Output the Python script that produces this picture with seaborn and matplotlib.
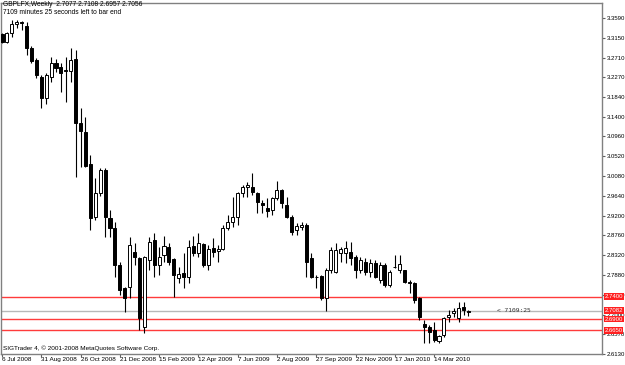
import matplotlib
matplotlib.use("Agg")
import numpy as np
import pandas as pd
import matplotlib.pyplot as plt
import seaborn as sns

# weekly GBPLFX candles, 6 Jul 2008 .. late Apr 2010
opens = [3.3234, 3.3057, 3.3257, 3.3457, 3.3501, 3.3412, 3.2923, 3.2657, 3.2279, 3.1812,
         3.2279, 3.2590, 3.2501, 3.2434, 3.2412, 3.2679, 3.1257, 3.1057, 3.0346, 2.9168,
         2.9701, 3.0212, 2.9146, 2.8923, 2.8101, 2.7590, 2.7612, 2.8390, 2.8257, 2.6723,
         2.8212, 2.8657, 2.8101, 2.8323, 2.8501, 2.8234, 2.7812, 2.7923, 2.7834, 2.8523,
         2.8368, 2.8568, 2.8101, 2.8479, 2.8412, 2.8457, 2.8923, 2.9057, 2.9168, 2.9701,
         2.9834, 2.9834, 2.9701, 2.9479, 2.9368, 2.9323, 2.9590, 2.9768, 2.9434, 2.9168,
         2.8879, 2.8946, 2.8990, 2.8257, 2.7834, 2.7857, 2.7368, 2.7990, 2.7946, 2.8368,
         2.8368, 2.8390, 2.8279, 2.7990, 2.8168, 2.7946, 2.8146, 2.7768, 2.8101, 2.7657,
         2.8057, 2.7990, 2.7990, 2.7723, 2.7701, 2.7368, 2.6790, 2.6723, 2.6657, 2.6412,
         2.6546, 2.6946, 2.7034, 2.6923, 2.7168, 2.7077]
highs = [3.3257, 3.3279, 3.3546, 3.3546, 3.3523, 3.3501, 3.2968, 3.2701, 3.2323, 3.2368,
         3.2723, 3.2679, 3.2590, 3.2723, 3.2923, 3.2879, 3.1590, 3.1390, 3.0546, 3.0034,
         3.0257, 3.0257, 2.9323, 2.9057, 2.8168, 2.7612, 2.8723, 2.8590, 2.8279, 2.8301,
         2.8723, 2.8812, 2.8501, 2.8746, 2.8590, 2.8257, 2.8057, 2.8368, 2.8657, 2.8746,
         2.8812, 2.8590, 2.8546, 2.8701, 2.8546, 2.8990, 2.9212, 2.9612, 2.9723, 2.9879,
         2.9946, 3.0146, 2.9712, 2.9546, 2.9590, 2.9612, 2.9968, 2.9779, 2.9612, 2.9212,
         2.9034, 2.9057, 2.9034, 2.8368, 2.7879, 2.7879, 2.8034, 2.8501, 2.8590, 2.8501,
         2.8634, 2.8612, 2.8323, 2.8279, 2.8257, 2.8234, 2.8212, 2.8168, 2.8146, 2.7990,
         2.8323, 2.8323, 2.8000, 2.7768, 2.7712, 2.7390, 2.6879, 2.6768, 2.6834, 2.6546,
         2.6946, 2.7101, 2.7146, 2.7279, 2.7279, 2.7108]
lows = [3.3034, 3.3034, 3.3168, 3.3368, 3.3323, 3.2768, 3.2590, 3.2257, 3.1590, 3.1679,
        3.2168, 3.2390, 3.1946, 3.1723, 3.2168, 3.0057, 3.0279, 3.0279, 2.8879, 2.9101,
        2.9634, 2.8723, 2.8723, 2.7834, 2.7434, 2.7057, 2.7368, 2.8101, 2.6657, 2.6590,
        2.7990, 2.7834, 2.7879, 2.8168, 2.8101, 2.7390, 2.7701, 2.7590, 2.7701, 2.8301,
        2.8279, 2.8057, 2.7990, 2.8279, 2.8168, 2.8434, 2.8879, 2.8946, 2.8990, 2.9612,
        2.9612, 2.9657, 2.9257, 2.9257, 2.9168, 2.9212, 2.9546, 2.9368, 2.9146, 2.8768,
        2.8768, 2.8879, 2.7834, 2.7812, 2.7590, 2.7323, 2.7079, 2.7923, 2.7923, 2.8168,
        2.8146, 2.8101, 2.7812, 2.7923, 2.7879, 2.7834, 2.7812, 2.7701, 2.7612, 2.7612,
        2.8034, 2.7923, 2.7701, 2.7479, 2.7257, 2.6879, 2.6368, 2.6368, 2.6390, 2.6368,
        2.6501, 2.6834, 2.6946, 2.6834, 2.6990, 2.6957]
closes = [3.3057, 3.3257, 3.3457, 3.3501, 3.3479, 3.2923, 3.2634, 3.2323, 3.1812, 3.2323,
          3.2590, 3.2479, 3.2368, 3.2412, 3.2657, 3.1257, 3.1079, 3.0301, 2.9146, 2.9701,
          3.0212, 2.9168, 2.8923, 2.8101, 2.7546, 2.7368, 2.8546, 2.8279, 2.6923, 2.8279,
          2.8612, 2.8101, 2.8279, 2.8523, 2.8168, 2.7879, 2.7901, 2.7834, 2.8501, 2.8368,
          2.8590, 2.8101, 2.8457, 2.8390, 2.8457, 2.8923, 2.9057, 2.9168, 2.9701, 2.9834,
          2.9879, 2.9723, 2.9501, 2.9434, 2.9301, 2.9590, 2.9768, 2.9479, 2.9168, 2.8834,
          2.8968, 2.8990, 2.8168, 2.7834, 2.7830, 2.7368, 2.7990, 2.8434, 2.8434, 2.8457,
          2.8479, 2.8257, 2.7990, 2.8212, 2.7946, 2.8146, 2.7834, 2.8101, 2.7657, 2.7946,
          2.8060, 2.8123, 2.7723, 2.7701, 2.7323, 2.6946, 2.6723, 2.6612, 2.6434, 2.6523,
          2.6923, 2.6990, 2.7079, 2.7146, 2.7101, 2.7056]

date_labels = ["6 Jul 2008", "31 Aug 2008", "26 Oct 2008", "21 Dec 2008", "15 Feb 2009",
               "12 Apr 2009", "7 Jun 2009", "2 Aug 2009", "27 Sep 2009", "22 Nov 2009",
               "17 Jan 2010", "14 Mar 2010"]
price_ticks = [3.3590, 3.3150, 3.2710, 3.2270, 3.1840, 3.1400, 3.0960, 3.0520, 3.0080,
               2.9640, 2.9200, 2.8760, 2.8320, 2.7880, 2.7440, 2.7000, 2.6570, 2.6130]
level_lines = [2.7400, 2.6900, 2.6650]
bid_level = 2.7082

sns.set_theme(style="white")
plt.rcParams["font.family"] = ["Liberation Sans", "DejaVu Sans"]
FS = 4.3

df = pd.DataFrame({"open": opens, "high": highs, "low": lows, "close": closes})
df["x"] = np.arange(len(df))
df["bull"] = df["close"] >= df["open"]
df["bottom"] = df[["open", "close"]].min(axis=1)
df["body"] = (df["close"] - df["open"]).abs().clip(lower=0.0006)

fig = plt.figure(figsize=(6.25, 3.65), dpi=100)
ax = fig.add_axes([1 / 625, 11 / 365, 601 / 625, 351 / 365])

# horizontal levels
for lv in level_lines:
    ax.axhline(lv, color="#ff3b3b", linewidth=1.0, zorder=1)
ax.axhline(bid_level, color="#b8b8b8", linewidth=1.0, zorder=1)

# candles: wicks then bodies
ax.vlines(df["x"], df["low"], df["high"], color="black", linewidth=0.8, zorder=2)
ax.bar(df["x"], df["body"], bottom=df["bottom"], width=0.62,
       color=np.where(df["bull"], "white", "black"), edgecolor="black",
       linewidth=0.7, zorder=3)

ax.set_xlim(-0.2, 122.2)
ax.set_ylim(2.6123, 3.3923)

ax.yaxis.tick_right()
ax.set_yticks(price_ticks)
ax.set_yticklabels([f"{t:.4f}" for t in price_ticks])
ax.set_xticks(np.arange(0, len(date_labels) * 8, 8))
ax.set_xticklabels(date_labels, ha="left")
ax.tick_params(axis="y", right=True, length=2.5, width=0.8, pad=1, labelsize=FS,
               color="#606060", labelcolor="black")
ax.tick_params(axis="x", bottom=True, length=2, width=0.8, pad=0.5, labelsize=FS + 0.3,
               color="#606060", labelcolor="black")
for sp in ax.spines.values():
    sp.set_color("#808080")
    sp.set_linewidth(1.0)

# price labels on the right edge
for lv in level_lines + [bid_level]:
    ax.text(1.004, lv, f"{lv:.4f}", transform=ax.get_yaxis_transform(), ha="left",
            va="center", color="white", fontsize=FS, zorder=10, clip_on=False,
            bbox=dict(boxstyle="square,pad=0.15", fc="#ff2020", ec="none"))

ax.text(100.8, bid_level, "< 7109:25", ha="left", va="center", fontsize=4.5,
        family="DejaVu Sans Mono", color="#333333")
ax.text(0.004, 0.008, "SIGTrader 4, \u00a9 2001-2008 MetaQuotes Software Corp.",
        transform=ax.transAxes, ha="left", va="bottom", fontsize=FS + 0.3, color="black")

fig.text(3 / 625, 1 - 1.5 / 365, "GBPLFX,Weekly  2.7077 2.7108 2.6957 2.7056",
         ha="left", va="top", fontsize=FS + 0.5, color="black")
fig.text(3 / 625, 1 - 9 / 365, "7109 minutes 25 seconds left to bar end",
         ha="left", va="top", fontsize=FS + 0.5, color="black")

fig.savefig("out.png", dpi=100, facecolor="white")
